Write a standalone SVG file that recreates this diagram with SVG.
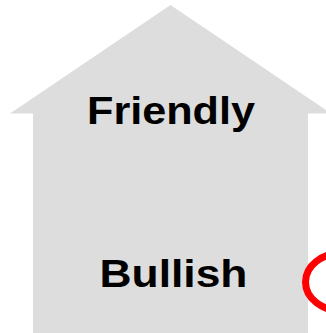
<svg xmlns="http://www.w3.org/2000/svg" width="326" height="333" viewBox="0 0 326 333">
<style>
.lbl{font-family:"Liberation Sans",Arial,sans-serif;font-weight:bold;font-size:38px;fill:#000;text-anchor:middle}
</style>
<rect width="326" height="333" fill="#fff"/>
<g id="house">
<polygon points="170.5,5 10,113.5 33,113.5 33,333 308,333 308,113.5 331,113.5" fill="#dddddd"/>
<text class="lbl" x="171" y="124" textLength="168" lengthAdjust="spacingAndGlyphs">Friendly</text>
<text class="lbl" x="173.5" y="287" textLength="148" lengthAdjust="spacingAndGlyphs">Bullish</text>
</g>
<g id="mark">
<ellipse cx="342" cy="282" rx="36.5" ry="29" fill="none" stroke="#ff0000" stroke-width="7"/>
</g>
</svg>
